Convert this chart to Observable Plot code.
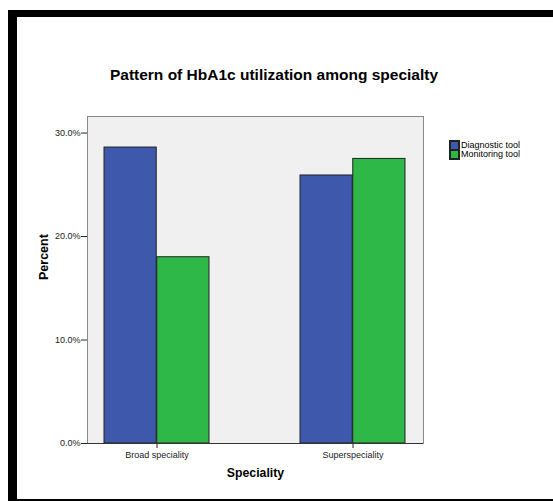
<!DOCTYPE html>
<html>
<head>
<meta charset="utf-8">
<script src="https://cdn.jsdelivr.net/npm/d3@7"></script>
<script src="https://cdn.jsdelivr.net/npm/@observablehq/plot@0.6"></script>
<style>
  html, body { margin: 0; padding: 0; background: #fff; }
  #page { position: relative; width: 553px; height: 501px; overflow: hidden; background: #fff; font-family: "Liberation Sans", Arial, sans-serif; }
  .bd { position: absolute; background: #000; }
  #title { position: absolute; left: 0; width: 548px; top: 66px; text-align: center; font-weight: bold; font-size: 15.5px; color: #000; }
  #chart { position: absolute; left: 0; top: 0; }
  #legend { position: absolute; left: 450px; top: 140.5px; font-size: 9px; color: #000; }
  #legend svg rect { stroke: #222; stroke-width: 2px; }
  #legend [class$="-swatch"] { margin: 0 0 0 0 !important; padding: 0 !important; height: 9.5px; line-height: 9.5px; display: flex; align-items: center; }
  #legend [class$="-swatch"] svg { margin-right: 2px !important; }
</style>
</head>
<body>
<div id="page">
  <div class="bd" style="left:8px; top:10px; width:545px; height:7px;"></div>
  <div class="bd" style="left:8px; top:10px; width:9px; height:491px;"></div>
  <div class="bd" style="left:8px; top:499px; width:545px; height:1.5px;"></div>
  <div id="title">Pattern of HbA1c utilization among specialty</div>
  <div id="chart"></div>
  <div id="legend"></div>
</div>
<script>
const categories = ["Broad speciality", "Superspeciality"];
const series = ["Diagnostic tool", "Monitoring tool"];
const diagnosticValues = [28.6, 25.9];
const monitoringValues = [18.0, 27.5];
const yTicks = [0, 10, 20, 30];
const colors = ["#3e58ac", "#2eb848"];

const rows = [];
categories.forEach((c, i) => {
  rows.push({category: c, series: series[0], value: diagnosticValues[i]});
  rows.push({category: c, series: series[1], value: monitoringValues[i]});
});

const W = 553, H = 501;
const mL = 87, mR = 130, mT = 116, mB = 58;
const padIn = 0.463, padOut = 0.0865;
const bw = d3.scaleBand().domain(categories).range([mL, W - mR]).paddingInner(padIn).paddingOuter(padOut).bandwidth();

const chart = Plot.plot({
  width: W,
  height: H,
  marginLeft: mL,
  marginRight: mR,
  marginTop: mT,
  marginBottom: mB,
  style: {fontFamily: "'Liberation Sans', Arial, sans-serif", fontSize: "9px", color: "#222", background: "transparent", overflow: "visible"},
  x: {domain: categories, paddingInner: padIn, paddingOuter: padOut, label: null, tickSize: 5, tickPadding: 3},
  y: {domain: [0, 31.6], ticks: yTicks, tickFormat: d => d.toFixed(1) + "%", label: null, tickSize: 6, tickPadding: 1, line: true},
  color: {domain: series, range: colors},
  marks: [
    Plot.frame({fill: "#f0f0f0", stroke: "#888"}),
    Plot.barY(rows.filter(d => d.series === series[0]), {x: "category", y: "value", fill: "series", stroke: "#222", strokeWidth: 1, insetRight: bw / 2}),
    Plot.barY(rows.filter(d => d.series === series[1]), {x: "category", y: "value", fill: "series", stroke: "#222", strokeWidth: 1, insetLeft: bw / 2}),
    Plot.ruleY([0], {stroke: "#333"}),
    Plot.text(["Percent"], {frameAnchor: "left", dx: -44, rotate: -90, fontWeight: "bold", fontSize: 12.5, fill: "#000"}),
    Plot.text(["Speciality"], {frameAnchor: "bottom", dy: 33, fontWeight: "bold", fontSize: 12.3, fill: "#000"})
  ]
});
document.getElementById("chart").appendChild(chart);

const legend = Plot.legend({
  color: {domain: series, range: colors},
  legend: "swatches",
  columns: 1,
  swatchSize: 9,
  className: "lg",
  style: {fontFamily: "'Liberation Sans', Arial, sans-serif", fontSize: "9px", color: "#000"}
});
document.getElementById("legend").appendChild(legend);
</script>
</body>
</html>
